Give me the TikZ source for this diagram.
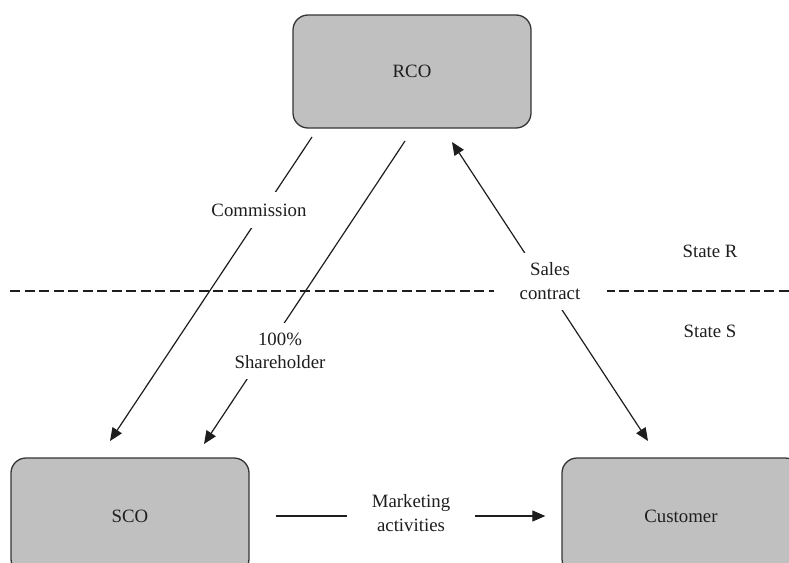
\documentclass[tikz,border=0pt]{standalone}
\usepackage{fontspec}
\setmainfont{Liberation Serif}
\usetikzlibrary{arrows.meta}
\definecolor{boxfill}{RGB}{192,192,192}
\definecolor{ink}{RGB}{30,30,30}
\begin{document}
\begin{tikzpicture}[x=1pt,y=-1pt,
  font=\fontsize{18.8}{23.5}\selectfont,
  every node/.style={text=ink},
  partybox/.style={draw=ink!90, line width=1.3pt, fill=boxfill, rounded corners=15pt,
    minimum width=238pt, minimum height=113pt, inner sep=0pt},
  conn/.style={draw=ink, line width=1.2pt},
  arr/.style={conn, -{Triangle[length=13pt,width=11pt]}},
  darr/.style={conn, {Triangle[length=13pt,width=11pt]}-{Triangle[length=13pt,width=11pt]}},
  lbl/.style={fill=white, inner xsep=2pt, inner ysep=0pt, align=center},
  statelbl/.style={inner sep=0pt}]
\useasboundingbox (0,0) rectangle (789,562);
% boxes
\node[partybox] (rco) at (412,71.5) {RCO};
\node[partybox, minimum height=116pt] (sco) at (130,516) {SCO};
\node[partybox, minimum height=116pt] (cust) at (681,516) {Customer};
% connector end points
\coordinate (c1) at (312,137);
\coordinate (c2) at (110,441);
\coordinate (h1) at (405,141);
\coordinate (h2) at (204,444);
\coordinate (s1) at (452,142);
\coordinate (s2) at (648,441);
\coordinate (dl) at (10,291);
\coordinate (dr) at (789,291);
% state border
\draw[ink, line width=1.1pt, dash pattern=on 10pt off 4.5pt] (dl) -- (dr);
% connectors
\draw[arr] (c1) -- (c2);
\draw[arr] (h1) -- (h2);
\draw[darr] (s1) -- (s2);
\draw[arr, shorten <=26pt, shorten >=16pt] (sco.east) -- (cust.west);
% labels
\node[lbl, minimum height=36pt] (lcomm) at (259,210) {Commission};
\node[lbl, minimum height=56pt] (lshare) at (280,351) {100\%\\Shareholder};
\node[lbl, minimum height=57pt, minimum width=113pt] (lsales) at (550,281) {Sales\\contract};
\node[lbl, minimum height=50pt, minimum width=128pt] (lmark) at (411,513) {Marketing\\activities};
\node[statelbl] (sr) at (710,251) {State R};
\node[statelbl] (ss) at (710,331) {State S};
\end{tikzpicture}
\end{document}
